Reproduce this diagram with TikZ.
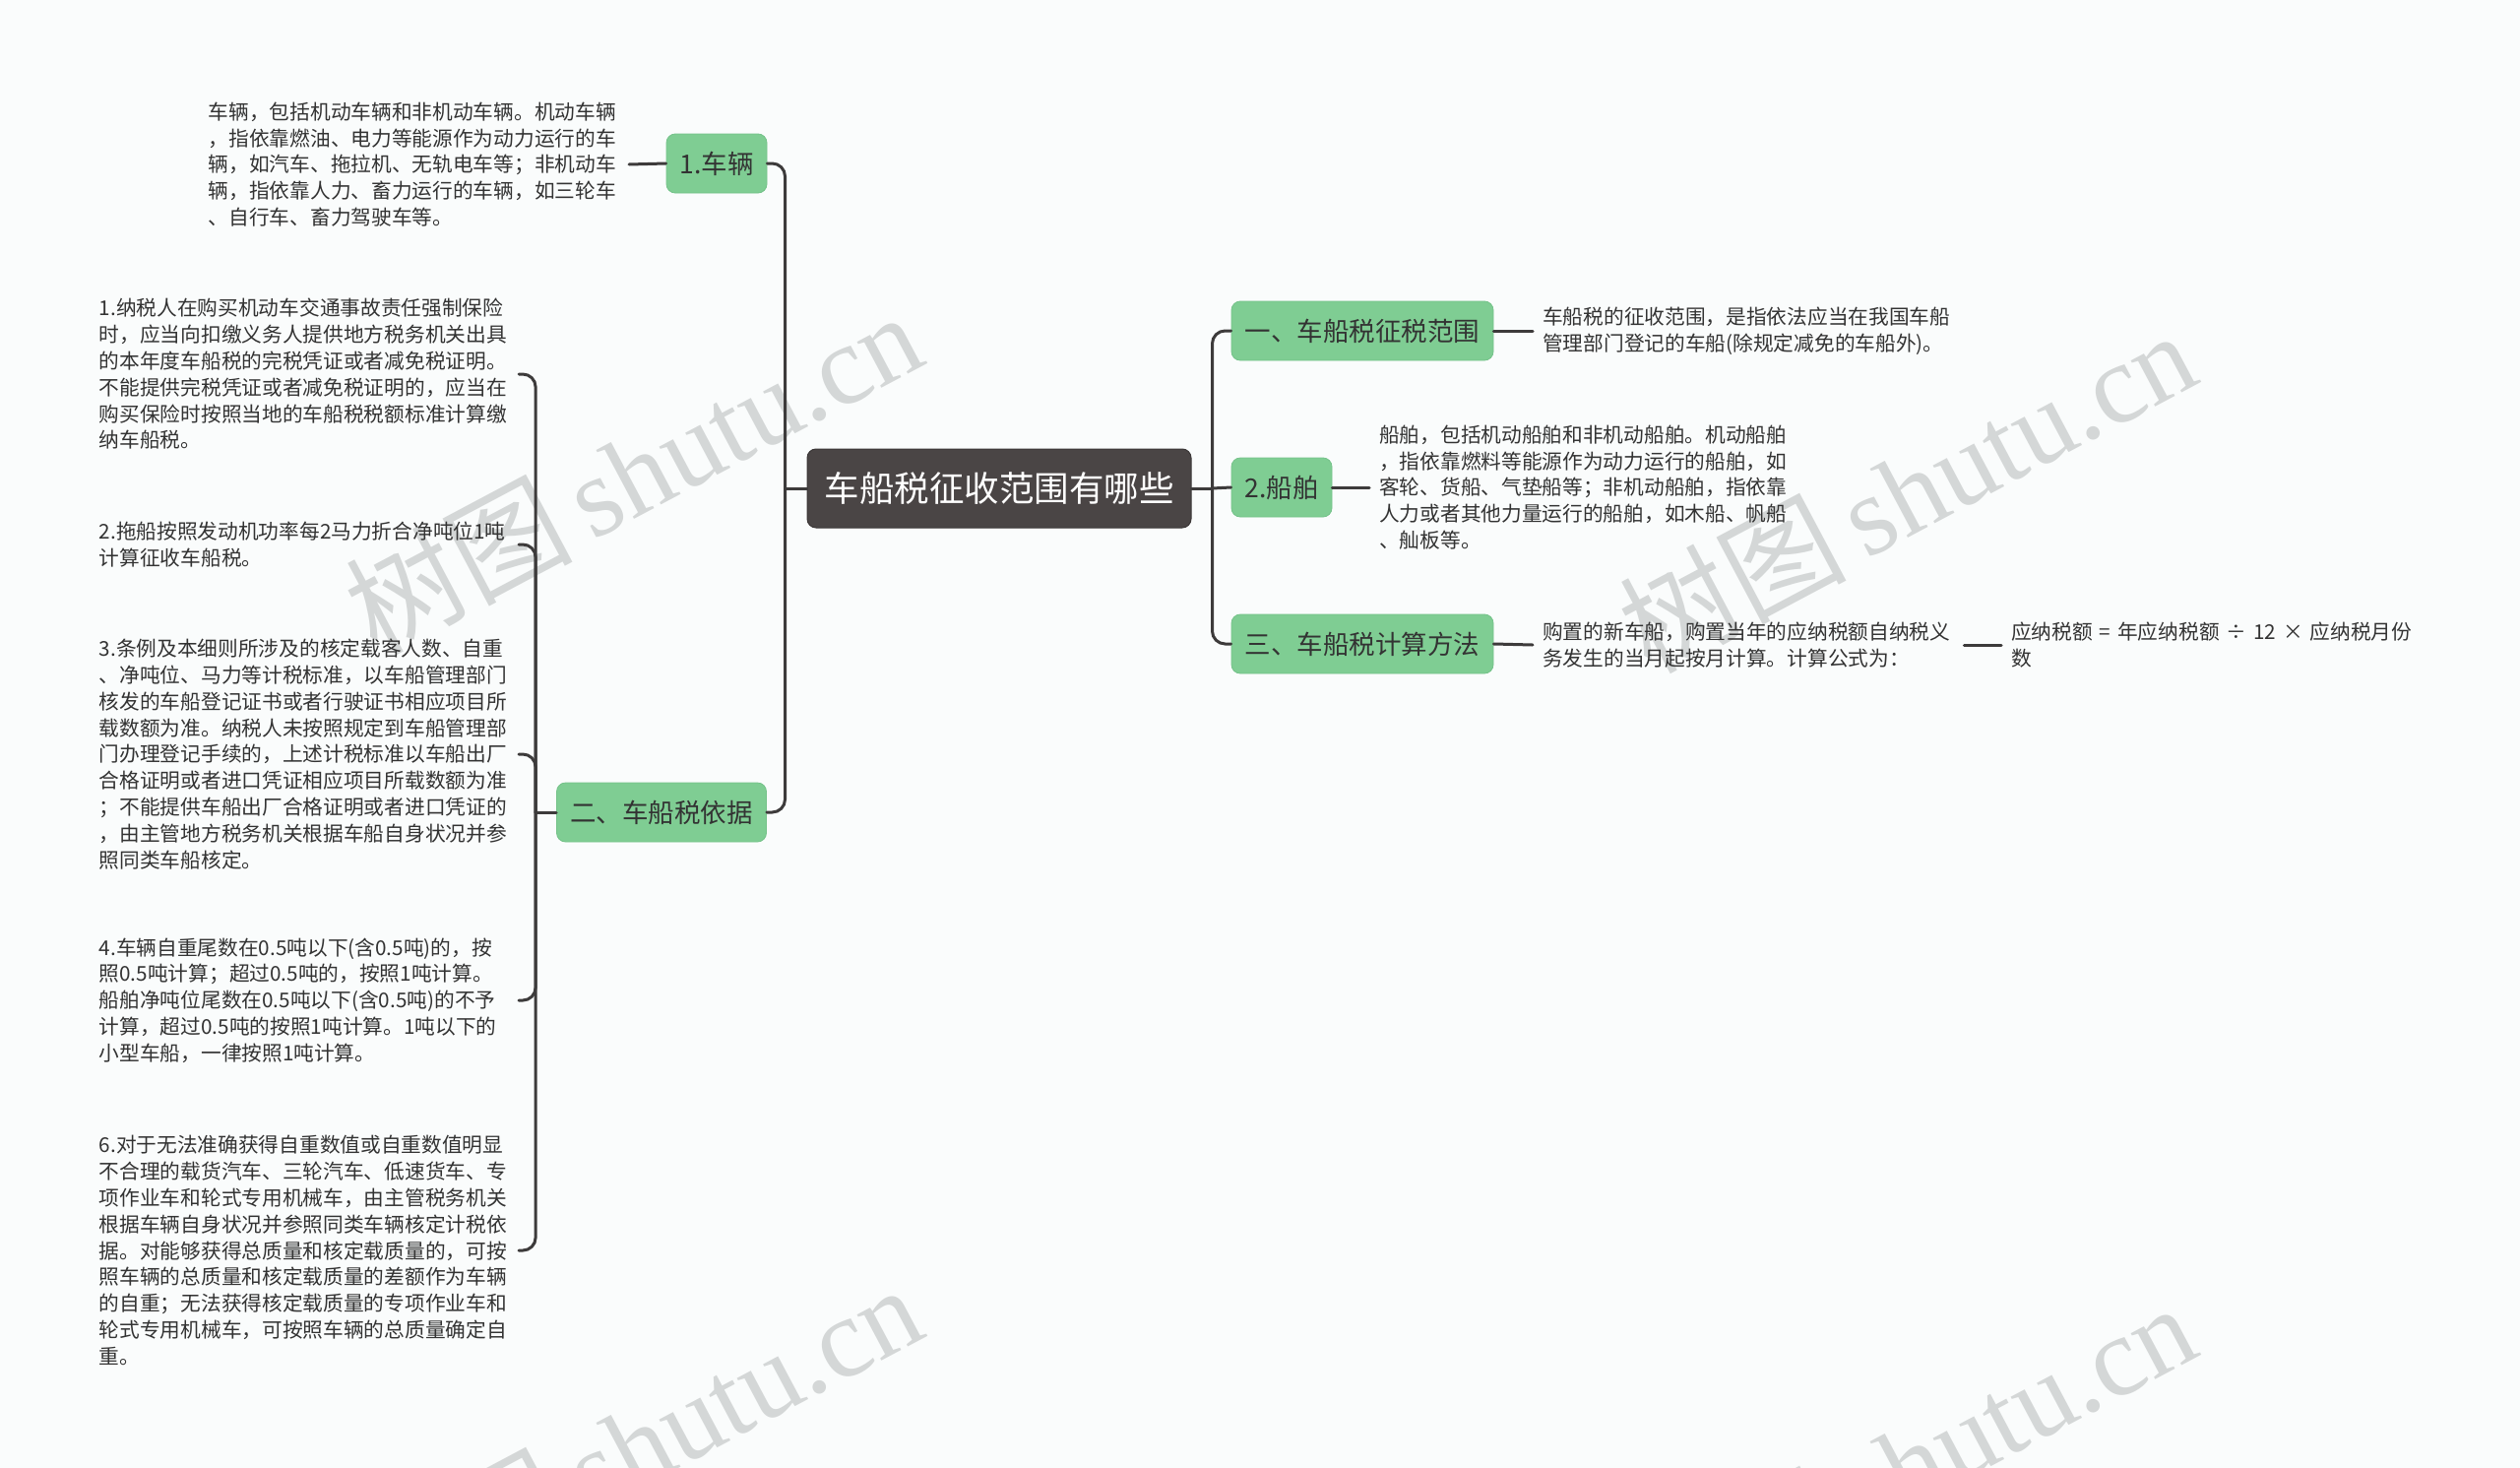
\documentclass[tikz,border=0pt]{standalone}
\usepackage{fontspec}
\setmainfont{Noto Sans CJK SC}
\newfontfamily\wmserif{Liberation Serif}
\definecolor{bgc}{HTML}{FAFCFC}
\definecolor{linec}{HTML}{3D3B3B}
\definecolor{rootc}{HTML}{4A4545}
\definecolor{greenc}{HTML}{7FCD93}
\definecolor{greenb}{HTML}{74C289}
\definecolor{txtc}{HTML}{333333}
\definecolor{wmc}{HTML}{D4D7D7}
\begin{document}
\begin{tikzpicture}[x=1pt,y=-1pt,
  conn/.style={draw=linec,line width=3pt,line cap=round},
  elbow/.style={conn,rounded corners=13pt},
  rootbox/.style={draw=rootc!80!black,line width=1pt,fill=rootc,rounded corners=9pt,text=white,
     font=\fontsize{35.5}{40}\selectfont,minimum width=390pt,minimum height=80pt,inner sep=0pt},
  topic/.style={draw=greenb,line width=0.8pt,fill=greenc,rounded corners=9pt,text=txtc,
     font=\fontsize{26.5}{30}\selectfont,minimum height=60pt,inner sep=0pt},
  desc/.style={text=txtc,font=\fontsize{20.7}{26.8}\selectfont,align=left,inner xsep=10pt,inner ysep=0pt},
  wm/.style={text=wmc,rotate=28,inner sep=0pt,font=\fontsize{115}{120}\selectfont}
]
\useasboundingbox (0,0) rectangle (2560,1491);
\fill[bgc] (0,0) rectangle (2560,1491);

% watermarks
\node[wm] (wm1) at (643,479) {树图\,{\wmserif shutu.cn}};
\node[wm] (wm2) at (1937,498) {树图\,{\wmserif shutu.cn}};
\node[wm] (wm3) at (643,1467) {树图\,{\wmserif shutu.cn}};
\node[wm] (wm4) at (1937,1486) {树图\,{\wmserif shutu.cn}};

% root
\node[rootbox] (root) at (1015,496) {车船税征收范围有哪些};

% left topics
\node[topic,minimum width=102pt] (car) at (728,166) {1.车辆};
\node[topic,minimum width=213pt] (basis) at (672,825) {二、车船税依据};

% right topics
\node[topic,minimum width=266pt] (r1) at (1384,336) {一、车船税征税范围};
\node[topic,minimum width=102pt] (r2) at (1302,495) {2.船舶};
\node[topic,minimum width=266pt] (r3) at (1384,654) {三、车船税计算方法};

% descriptions
\node[desc,text width=417pt,anchor=east] (carT) at (639,167) {车辆，包括机动车辆和非机动车辆。机动车辆\\，指依靠燃油、电力等能源作为动力运行的车\\辆，如汽车、拖拉机、无轨电车等；非机动车\\辆，指依靠人力、畜力运行的车辆，如三轮车\\、自行车、畜力驾驶车等。};

\node[desc,text width=416pt,anchor=east] (b1) at (527,380) {1.纳税人在购买机动车交通事故责任强制保险\\时，应当向扣缴义务人提供地方税务机关出具\\的本年度车船税的完税凭证或者减免税证明。\\不能提供完税凭证或者减免税证明的，应当在\\购买保险时按照当地的车船税税额标准计算缴\\纳车船税。};
\node[desc,text width=416pt,anchor=east] (b2) at (527,553) {2.拖船按照发动机功率每2马力折合净吨位1吨\\计算征收车船税。};
\node[desc,text width=416pt,anchor=east] (b3) at (527,766) {3.条例及本细则所涉及的核定载客人数、自重\\、净吨位、马力等计税标准，以车船管理部门\\核发的车船登记证书或者行驶证书相应项目所\\载数额为准。纳税人未按照规定到车船管理部\\门办理登记手续的，上述计税标准以车船出厂\\合格证明或者进口凭证相应项目所载数额为准\\；不能提供车船出厂合格证明或者进口凭证的\\，由主管地方税务机关根据车船自身状况并参\\照同类车船核定。};
\node[desc,text width=416pt,anchor=east] (b4) at (527,1016) {4.车辆自重尾数在0.5吨以下(含0.5吨)的，按\\照0.5吨计算；超过0.5吨的，按照1吨计算。\\船舶净吨位尾数在0.5吨以下(含0.5吨)的不予\\计算，超过0.5吨的按照1吨计算。1吨以下的\\小型车船，一律按照1吨计算。};
\node[desc,text width=416pt,anchor=east] (b6) at (527,1270) {6.对于无法准确获得自重数值或自重数值明显\\不合理的载货汽车、三轮汽车、低速货车、专\\项作业车和轮式专用机械车，由主管税务机关\\根据车辆自身状况并参照同类车辆核定计税依\\据。对能够获得总质量和核定载质量的，可按\\照车辆的总质量和核定载质量的差额作为车辆\\的自重；无法获得核定载质量的专项作业车和\\轮式专用机械车，可按照车辆的总质量确定自\\重。};

\node[desc,text width=418pt,anchor=west] (r1t) at (1557,336) {车船税的征收范围，是指依法应当在我国车船\\管理部门登记的车船(除规定减免的车船外)。};
\node[desc,text width=418pt,anchor=west] (r2t) at (1391,495) {船舶，包括机动船舶和非机动船舶。机动船舶\\，指依靠燃料等能源作为动力运行的船舶，如\\客轮、货船、气垫船等；非机动船舶，指依靠\\人力或者其他力量运行的船舶，如木船、帆船\\、舢板等。};
\node[desc,text width=418pt,anchor=west] (r3t) at (1557,655) {购置的新车船，购置当年的应纳税额自纳税义\\务发生的当月起按月计算。计算公式为：};
\node[desc,text width=420pt,anchor=west] (fml) at (2033,655) {应纳税额 = 年应纳税额 ÷ 12 × 应纳税月份\\数};

% connectors: root to left
\draw[conn] (root.west) -- ++(-22,0) coordinate (jL);
\draw[elbow] (jL) |- (car.east);
\draw[elbow] (jL) |- (basis.east);
\draw[conn] (car.west) -- (carT.east);

% basis sub-trunk
\draw[conn] (basis.west) -- ++(-21,0) coordinate (jB);
\foreach \n in {b1,b2,b3,b4,b6} { \draw[elbow] (jB) |- (\n.east); }

% right
\draw[conn] (root.east) -- ++(21,0) coordinate (jR);
\draw[elbow] (jR) |- (r1.west);
\draw[conn] (jR) -- (r2.west);
\draw[elbow] (jR) |- (r3.west);
\draw[conn] (r1.east) -- (r1t.west);
\draw[conn] (r2.east) -- (r2t.west);
\draw[conn] (r3.east) -- (r3t.west);
\draw[conn] (r3t.east) -- (fml.west);
\end{tikzpicture}
\end{document}
